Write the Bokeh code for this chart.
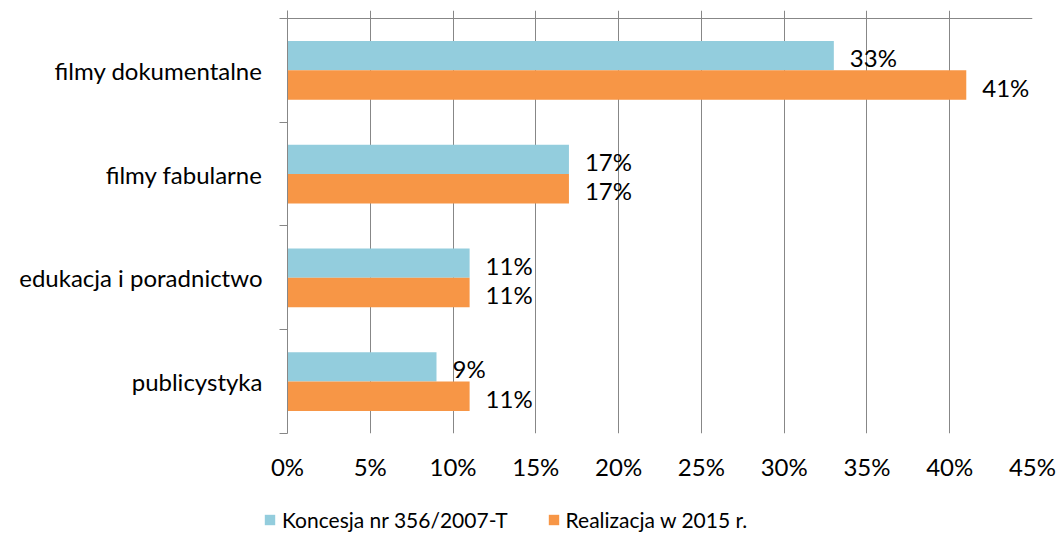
from bokeh.plotting import figure
from bokeh.layouts import column
from bokeh.models import (Range1d, FixedTicker, Legend, LegendItem, ColumnDataSource)
from bokeh.embed import file_html
from bokeh.resources import INLINE
from bokeh.core.properties import value

categories = ["filmy dokumentalne", "filmy fabularne", "edukacja i poradnictwo", "publicystyka"]
koncesja = [33, 17, 11, 9]
realizacja = [41, 17, 11, 11]
series_names = ["Koncesja nr 356/2007-T", "Realizacja w 2015 r."]
x_ticks = [0, 5, 10, 15, 20, 25, 30, 35, 40, 45]

FONT = "Lato"
FS = "24px"
LEG_FS = "21px"
BLUE = "#93CDDD"
ORANGE = "#F79646"
GRID = "#878787"
BAR_H = 0.284
TOP_PAD = 0.077  # space above the top line where grid lines poke out

n = len(categories)
centers = [i + 0.5 for i in range(n)]

p = figure(width=1058, height=490, output_backend="svg", toolbar_location=None,
           x_range=Range1d(0, 45), y_range=Range1d(n, -TOP_PAD),
           min_border_left=287, min_border_right=26, min_border_top=10, min_border_bottom=57)
p.outline_line_color = None
p.frame_align = False

# x axis (bottom: labels only)
xax = p.xaxis[0]
xax.ticker = FixedTicker(ticks=x_ticks)
xax.major_label_overrides = {t: f"{t}%" for t in x_ticks}
xax.axis_line_color = None
xax.major_tick_line_color = None
xax.major_tick_out = 0
xax.major_tick_in = 0
xax.minor_tick_line_color = None
xax.minor_tick_out = 0
xax.major_label_standoff = 18
xax.major_label_text_font = FONT
xax.major_label_text_font_size = FS
xax.major_label_text_color = "#000000"

# y axis
yax = p.yaxis[0]
yax.ticker = FixedTicker(ticks=centers, minor_ticks=list(range(n + 1)))
yax.major_label_overrides = {c: lab for c, lab in zip(centers, categories)}
yax.axis_line_color = GRID
yax.major_tick_line_color = None
yax.major_tick_out = 0
yax.major_tick_in = 0
yax.minor_tick_line_color = GRID
yax.minor_tick_out = 8
yax.minor_tick_in = 0
yax.major_label_standoff = 17
yax.major_label_text_font = FONT
yax.major_label_text_font_size = FS
yax.major_label_text_color = "#000000"

p.xgrid.ticker = FixedTicker(ticks=x_ticks)
p.xgrid.grid_line_color = GRID
p.ygrid.ticker = FixedTicker(ticks=[0])
p.ygrid.grid_line_color = GRID

src1 = ColumnDataSource(dict(y=[c - BAR_H / 2 for c in centers], v=koncesja,
                             t=[f"{v}%" for v in koncesja]))
src2 = ColumnDataSource(dict(y=[c + BAR_H / 2 for c in centers], v=realizacja,
                             t=[f"{v}%" for v in realizacja]))

r1 = p.hbar(y="y", right="v", left=0, height=BAR_H, source=src1, fill_color=BLUE, line_color=None)
r2 = p.hbar(y="y", right="v", left=0, height=BAR_H, source=src2, fill_color=ORANGE, line_color=None)

for s in (src1, src2):
    p.text(x="v", y="y", text="t", source=s, x_offset=16, y_offset=2, text_baseline="middle",
           text_font=value(FONT), text_font_size=FS, text_color="#000000")

# legend strip below the chart
lg = figure(width=1058, height=45, output_backend="svg", toolbar_location=None,
            x_range=Range1d(-10, -5), y_range=Range1d(0, 1),
            x_axis_location=None, y_axis_location=None,
            min_border_left=0, min_border_right=0, min_border_top=0, min_border_bottom=0)
lg.outline_line_color = None
lg.frame_align = False
lg.xgrid.visible = False
lg.ygrid.visible = False
l1 = lg.hbar(y="y", right="v", left=0, height=BAR_H, source=src1, fill_color=BLUE, line_color=None)
l2 = lg.hbar(y="y", right="v", left=0, height=BAR_H, source=src2, fill_color=ORANGE, line_color=None)

legend = Legend(items=[LegendItem(label=series_names[0], renderers=[l1]),
                       LegendItem(label=series_names[1], renderers=[l2])],
                orientation="horizontal", location=(263, 3),
                glyph_width=13, glyph_height=13, label_standoff=6, spacing=39,
                padding=0, margin=0, border_line_color=None, background_fill_alpha=0,
                label_text_font=FONT, label_text_font_size=LEG_FS, label_text_color="#000000")
lg.add_layout(legend, "center")

layout = column(p, lg, spacing=0)
open("out.html", "w").write(file_html(layout, INLINE))
